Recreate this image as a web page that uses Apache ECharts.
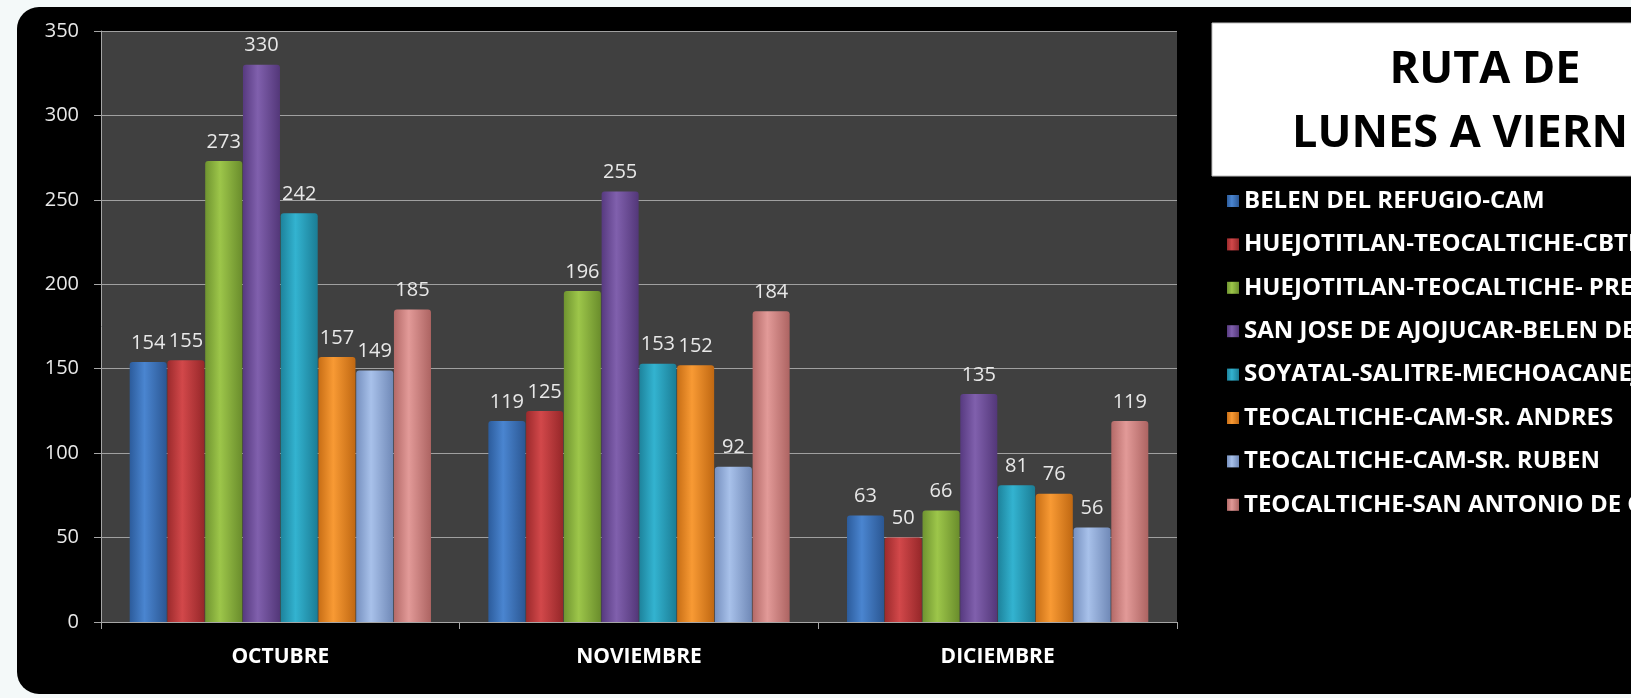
<!DOCTYPE html>
<html>
<head>
<meta charset="utf-8">
<script src="https://cdn.jsdelivr.net/npm/echarts@6/dist/echarts.min.js"></script>
<style>
html,body{margin:0;padding:0;background:#f4f9f9;}
#c{width:1631px;height:698px;}
</style>
</head>
<body>
<div id="c"></div>
<script>
const categories = ['OCTUBRE', 'NOVIEMBRE', 'DICIEMBRE'];
const seriesNames = [
  'BELEN DEL REFUGIO-CAM',
  'HUEJOTITLAN-TEOCALTICHE-CBTIS',
  'HUEJOTITLAN-TEOCALTICHE- PREPA',
  'SAN JOSE DE AJOJUCAR-BELEN DEL REFUGIO',
  'SOYATAL-SALITRE-MECHOACANEJO',
  'TEOCALTICHE-CAM-SR. ANDRES',
  'TEOCALTICHE-CAM-SR. RUBEN',
  'TEOCALTICHE-SAN ANTONIO DE C'
];
const belen = [154, 119, 63];
const huejoCbtis = [155, 125, 50];
const huejoPrepa = [273, 196, 66];
const sanJose = [330, 255, 135];
const soyatal = [242, 153, 81];
const teoAndres = [157, 152, 76];
const teoRuben = [149, 92, 56];
const teoSanAntonio = [185, 184, 119];
const seriesValues = [belen, huejoCbtis, huejoPrepa, sanJose, soyatal, teoAndres, teoRuben, teoSanAntonio];
const yTicks = [0, 50, 100, 150, 200, 250, 300, 350];
const titleLines = ['RUTA DE', 'LUNES A VIERNES'];

const palette = [
  ['#2c5c9c', '#4a85d0', '#2b5793'],
  ['#9c2a2c', '#d2484a', '#962729'],
  ['#6f9430', '#9dc64a', '#6a8d2c'],
  ['#573a80', '#8060ad', '#533779'],
  ['#1d839c', '#33b3d0', '#1b7d95'],
  ['#c86e15', '#f89a34', '#c06812'],
  ['#7690bf', '#a8c1ea', '#7089b7'],
  ['#b46a68', '#e29a98', '#ad6462']
];
function grad(c) {
  return new echarts.graphic.LinearGradient(0, 0, 1, 0, [
    {offset: 0, color: c[0]}, {offset: 0.4, color: c[1]}, {offset: 1, color: c[2]}
  ]);
}
const FONT = "'Open Sans', 'DejaVu Sans', sans-serif";

const chart = echarts.init(document.getElementById('c'), null, {renderer: 'canvas'});
chart.setOption({
  backgroundColor: '#f4f9f9',
  animation: false,
  graphic: [
    {type: 'rect', z: -10, shape: {x: 17, y: 7, width: 1700, height: 687, r: 22}, style: {fill: '#000000'}},
    {type: 'rect', z: 10, shape: {x: 1212, y: 23, width: 500, height: 153}, style: {fill: '#ffffff', stroke: '#bfbfbf', lineWidth: 1}},
    {type: 'text', z: 11, style: {text: titleLines[0], x: 1485, y: 70, textAlign: 'center', textVerticalAlign: 'middle', font: "bold 45px " + FONT, fill: '#000000'}},
    {type: 'text', z: 11, style: {text: titleLines[1], x: 1485, y: 134, textAlign: 'center', textVerticalAlign: 'middle', font: "bold 45px " + FONT, fill: '#000000'}}
  ],
  grid: {left: 101, top: 31, right: 454, bottom: 76, show: true, backgroundColor: '#404040', borderWidth: 0},
  legend: {
    orient: 'vertical',
    left: 1222,
    top: 184,
    itemWidth: 12,
    itemHeight: 12,
    itemGap: 19.4,
    icon: 'rect',
    textStyle: {color: '#ffffff', fontWeight: 'bold', fontSize: 24, fontFamily: FONT, lineHeight: 22},
    data: seriesNames
  },
  xAxis: {
    type: 'category',
    data: categories,
    axisLine: {lineStyle: {color: '#a6a6a6', width: 1}},
    axisTick: {show: true, length: 7, lineStyle: {color: '#a6a6a6'}},
    axisLabel: {color: '#ffffff', fontWeight: 'bold', fontSize: 21, fontFamily: FONT, margin: 25}
  },
  yAxis: {
    type: 'value',
    min: yTicks[0],
    max: yTicks[yTicks.length - 1],
    interval: yTicks[1] - yTicks[0],
    axisLine: {show: true, lineStyle: {color: '#a6a6a6', width: 1}},
    axisTick: {show: true, length: 7, lineStyle: {color: '#a6a6a6'}},
    axisLabel: {color: '#e8e8e8', fontSize: 20, fontFamily: FONT, margin: 22},
    splitLine: {lineStyle: {color: '#a0a0a0', width: 1}}
  },
  series: seriesNames.map((n, i) => ({
    name: n,
    type: 'bar',
    data: seriesValues[i],
    barCategoryGap: '16%',
    barGap: '2%',
    itemStyle: {color: grad(palette[i]), borderRadius: [3, 3, 0, 0]},
    label: {show: true, position: 'top', distance: 9, color: '#e8e8e8', fontSize: 20, fontFamily: FONT}
  }))
});
</script>
</body>
</html>
